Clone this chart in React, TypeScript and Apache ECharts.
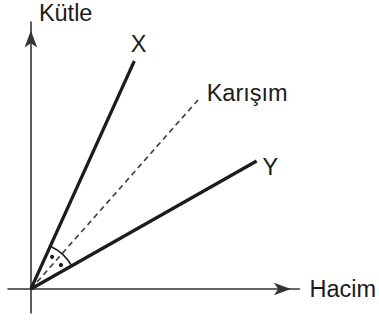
import React, { useEffect, useRef } from "react";
import * as echarts from "echarts";

// Volume (x) and mass (y) at the two ends of each straight line.
const volumeX = [0, 10.4];
const massX = [0, 22.8];
const volumeY = [0, 22.7];
const massY = [0, 12.8];
const volumeMix = [0, 16.8];
const massMix = [0, 18.9];

const lineNames = ["X", "Y", "Karışım"];
const axisNames = ["Hacim", "Kütle"];

const INK = "#1c1c1c";
const FONT = "'Liberation Sans', Arial, Helvetica, sans-serif";
const FONT_SIZE = 23.5;

const toPairs = (xs: number[], ys: number[]) => xs.map((x, i) => [x, ys[i]]);

export default function App() {
  const ref = useRef<HTMLDivElement>(null);

  useEffect(() => {
    if (!ref.current) return;
    const chart = echarts.init(ref.current, null, { renderer: "svg" });

    const endLabel = (text: string, offset: number[], align = "center") => ({
      show: true,
      formatter: text,
      position: "inside",
      align,
      verticalAlign: "middle",
      offset,
      color: INK,
      fontSize: FONT_SIZE,
      fontFamily: FONT,
    });

    const lineData = (xs: number[], ys: number[], label: any) =>
      toPairs(xs, ys).map((p, i) =>
        i === xs.length - 1 ? { value: p, label } : { value: p }
      );

    const arrowSize = [9.5, 17];

    const axisLine = {
      onZero: true,
      symbol: ["none", "arrow"],
      symbolSize: arrowSize,
      symbolOffset: [0, -arrowSize[1] / 2],
      lineStyle: { color: "#353535", width: 1.6 },
    };

    chart.setOption({
      animation: false,
      grid: { left: 8, right: 78, top: 22, bottom: 9, containLabel: false },
      xAxis: {
        type: "value",
        min: -2.3,
        max: 27,
        name: axisNames[0],
        nameLocation: "end",
        nameGap: 10,
        nameTextStyle: {
          color: INK,
          fontSize: FONT_SIZE,
          fontFamily: FONT,
          align: "left",
          verticalAlign: "middle",
        },
        axisLine,
        axisTick: { show: false },
        axisLabel: { show: false },
        splitLine: { show: false },
      },
      yAxis: {
        type: "value",
        min: -2.4,
        max: 26.7,
        name: axisNames[1],
        nameLocation: "end",
        nameGap: 9,
        nameTextStyle: {
          color: INK,
          fontSize: FONT_SIZE,
          fontFamily: FONT,
          align: "left",
          verticalAlign: "middle",
          padding: [0, 0, 0, 8],
        },
        axisLine,
        axisTick: { show: false },
        axisLabel: { show: false },
        splitLine: { show: false },
      },
      series: [
        {
          name: lineNames[2],
          type: "line",
          data: lineData(volumeMix, massMix, endLabel(lineNames[2], [8.7, -6.7], "left")),
          symbol: "circle",
          symbolSize: 0.01,
          itemStyle: { color: "#444444" },
          lineStyle: { color: "#444444", width: 1.7, type: [5.5, 4] },
          z: 2,
        },
        {
          name: lineNames[0],
          type: "line",
          data: lineData(volumeX, massX, endLabel(lineNames[0], [4.3, -16.7])),
          symbol: "circle",
          symbolSize: 0.01,
          itemStyle: { color: INK },
          lineStyle: { color: INK, width: 3.2 },
          z: 3,
        },
        {
          name: lineNames[1],
          type: "line",
          data: lineData(volumeY, massY, endLabel(lineNames[1], [13.7, 5.7])),
          symbol: "circle",
          symbolSize: 0.01,
          itemStyle: { color: INK },
          lineStyle: { color: INK, width: 3.2 },
          z: 3,
        },
        {
          // Angle mark between X and Y, with a dot in each half to show the
          // dashed line bisects it.
          type: "custom",
          data: [[volumeX[1], massX[1], volumeY[1], massY[1]]],
          encode: { x: [0, 2], y: [1, 3] },
          silent: true,
          z: 4,
          renderItem: (_params: any, api: any) => {
            const o = api.coord([0, 0]);
            const a = api.coord([api.value(0), api.value(1)]);
            const b = api.coord([api.value(2), api.value(3)]);
            const angA = Math.atan2(a[1] - o[1], a[0] - o[0]);
            const angB = Math.atan2(b[1] - o[1], b[0] - o[0]);
            const mid = (angA + angB) / 2;
            const q1 = (angA + mid) / 2;
            const q2 = (mid + angB) / 2;
            const rArc = 47;
            const rDot = 38.5;
            const dot = (ang: number) => ({
              type: "circle",
              shape: {
                cx: o[0] + rDot * Math.cos(ang),
                cy: o[1] + rDot * Math.sin(ang),
                r: 2.1,
              },
              style: { fill: INK },
            });
            return {
              type: "group",
              children: [
                {
                  type: "arc",
                  shape: {
                    cx: o[0],
                    cy: o[1],
                    r: rArc,
                    startAngle: angA,
                    endAngle: angB,
                    clockwise: true,
                  },
                  style: { stroke: INK, lineWidth: 1.6, fill: null },
                },
                dot(q1),
                dot(q2),
              ],
            };
          },
        },
      ],
    });

    return () => chart.dispose();
  }, []);

  return (
    <div
      ref={ref}
      style={{
        position: "fixed",
        left: 0,
        top: 0,
        width: 379,
        height: 322,
        background: "#ffffff",
      }}
    />
  );
}
